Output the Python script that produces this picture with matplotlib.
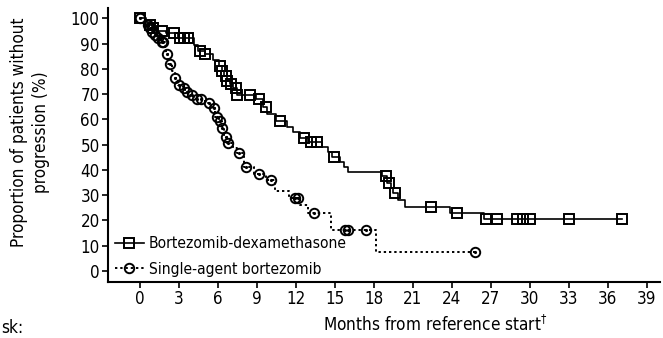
import numpy as np
import matplotlib
matplotlib.use('Agg')
import matplotlib.pyplot as plt

plt.rcParams['font.family'] = ['DejaVu Sans']
plt.rcParams['font.stretch'] = 'condensed'

# Kaplan-Meier steps: time of drop (months) and proportion after the drop (%)
bd_times = [0, 0.5, 0.9, 1.3, 2.0, 2.9, 4.2, 4.5, 5.0, 5.6, 6.1, 6.3, 6.5, 6.7, 6.9, 7.2, 7.5,
            8.9, 9.5, 9.8, 10.5, 11.3, 11.8, 12.3, 12.9, 14.0, 14.5, 14.8, 15.4, 15.7, 16.0,
            18.6, 19.0, 19.3, 19.5, 19.9, 20.4, 23.9, 26.5, 37.1]
bd_surv = [100, 97.5, 96, 95, 94, 92, 89.5, 87, 86, 83.5, 81, 79, 77, 75, 74, 72.5, 69.5,
           68, 65, 62, 59.5, 57, 55, 52.5, 51, 49, 47, 45, 43, 41, 39,
           37.5, 35, 33, 30.7, 28, 25.5, 23, 20.5, 20.5]
bd_censor = [0, 0.8, 1.0, 1.7, 2.6, 3.1, 3.4, 3.7, 4.6, 5.0, 6.2, 6.3, 6.6, 6.7, 7.0, 7.4, 7.5,
             8.5, 9.2, 9.7, 10.8, 12.6, 13.2, 13.6, 14.9, 18.9, 19.2, 19.6, 22.4, 24.4,
             26.6, 27.5, 29.0, 29.5, 30.0, 33.0, 37.1]

sa_times = [0, 0.4, 0.7, 0.9, 1.1, 1.3, 1.6, 1.9, 2.0, 2.2, 2.5, 2.7, 2.9, 3.3, 3.5, 3.8, 4.2,
            5.0, 5.5, 5.8, 6.1, 6.3, 6.5, 6.7, 7.2, 7.5, 8.0, 8.8, 9.7, 10.4, 11.5, 12.3,
            12.9, 14.7, 18.2, 25.8]
sa_surv = [100, 97.5, 96, 94.5, 93.5, 92, 90.5, 88.5, 86, 82, 79, 76.5, 73.5, 72.5, 71, 69.5, 68,
           66.5, 64.5, 61, 59.5, 56.5, 53, 50.5, 48.5, 46.5, 41, 38.5, 36, 31.5, 29, 26,
           23, 16.2, 7.5, 7.5]
sa_censor = [0, 0.6, 0.8, 0.9, 1.15, 1.4, 1.7, 1.8, 2.05, 2.3, 2.7, 3.0, 3.4, 3.6, 4.0, 4.4,
             4.7, 5.3, 5.7, 5.9, 6.2, 6.3, 6.6, 6.8, 7.6, 8.2, 9.2, 10.1, 11.9, 12.2, 13.4,
             15.8, 16.0, 17.4, 25.8]

xticks = list(range(0, 40, 3))
yticks = list(range(0, 101, 10))


def level_at(times, surv, t):
    idx = np.searchsorted(times, t, side='right') - 1
    return np.asarray(surv)[idx]


fig = plt.figure(figsize=(6.63, 3.38), dpi=100)
ax = fig.add_axes([0.163, 0.166, 0.832, 0.81])

ax.step(bd_times, bd_surv, where='post', color='black', lw=1.2)
ax.step(sa_times, sa_surv, where='post', color='black', lw=1.4, linestyle=(0, (1.2, 1.5)))

ax.plot(bd_censor, level_at(bd_times, bd_surv, bd_censor), 's', ms=6.8,
        mfc='none', mec='black', mew=1.4)
ax.plot(sa_censor, level_at(sa_times, sa_surv, sa_censor), 'o', ms=6.8,
        mfc='none', mec='black', mew=1.4)
ax.plot(sa_censor, level_at(sa_times, sa_surv, sa_censor), '.', ms=2.5, color='black')

# legend handles
h1, = ax.plot([], [], color='black', lw=1.2, marker='s', ms=6.8, mfc='none', mec='black', mew=1.4)
h2, = ax.plot([], [], color='black', lw=1.4, linestyle=(0, (1.2, 1.5)), marker='o', ms=6.8,
              mfc='none', mec='black', mew=1.4)
ax.legend([h1, h2], ['Bortezomib-dexamethasone', 'Single-agent bortezomib'],
          loc='lower left', bbox_to_anchor=(-0.005, -0.015), frameon=False, fontsize=11.2,
          handlelength=1.9, handletextpad=0.3, labelspacing=0.68, borderaxespad=0.2)

ax.set_xlim(-2.45, 40.0)
ax.set_ylim(-4.3, 104)
ax.set_xticks(xticks)
ax.set_yticks(yticks)
ax.tick_params(labelsize=12.2, length=4, width=1.2, direction='out', pad=2)
for s in ['top', 'right']:
    ax.spines[s].set_visible(False)
for s in ['left', 'bottom']:
    ax.spines[s].set_linewidth(1.5)

ax.set_ylabel('Proportion of patients without\nprogression (%)', fontsize=12.3, linespacing=1.25)
ax.yaxis.set_label_coords(-0.106, 0.545)
ax.set_xlabel('Months from reference start$^{\\dagger}$', fontsize=12.3)
ax.xaxis.set_label_coords(0.593, -0.12)
fig.text(0.002, 0.03, 'sk:', fontsize=12.3, ha='left', va='center')

fig.savefig('out.png', dpi=100)
